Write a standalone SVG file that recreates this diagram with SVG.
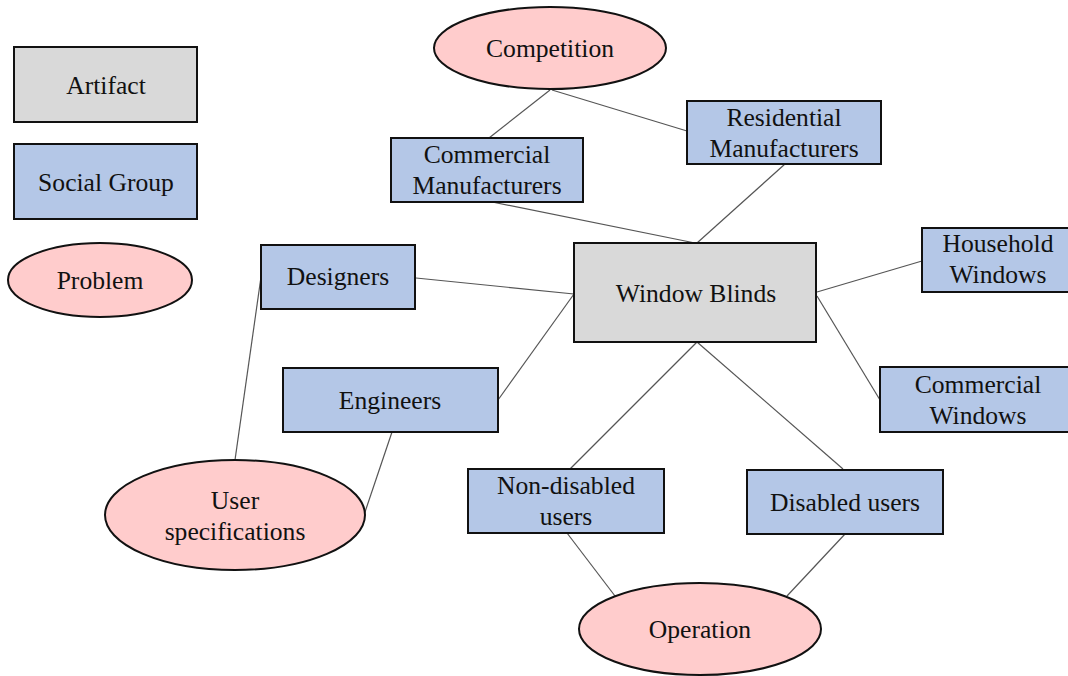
<svg xmlns="http://www.w3.org/2000/svg" width="1068" height="676" viewBox="0 0 1068 676">
  <style>
    .artifact { fill: #d9d9d9; stroke: #111; stroke-width: 2; }
    .group { fill: #b4c7e7; stroke: #111; stroke-width: 2; }
    .problem { fill: #ffcccc; stroke: #111; stroke-width: 2; }
    .edge { stroke: #555; stroke-width: 1.2; fill: none; }
    .label { font-size: 25.6px; fill: #111; text-anchor: middle; }
  </style>
  <rect width="1068" height="676" fill="#fff"/>

  <!-- connectors -->
  <g id="connectors">
    <line class="edge" x1="550" y1="90" x2="489" y2="138"/>
    <line class="edge" x1="552" y1="90" x2="687" y2="131"/>
    <line class="edge" x1="492" y1="202" x2="695" y2="243"/>
    <line class="edge" x1="785" y1="164" x2="697" y2="243"/>
    <line class="edge" x1="416" y1="278" x2="574" y2="294"/>
    <line class="edge" x1="498" y1="400" x2="574" y2="294"/>
    <line class="edge" x1="817" y1="292" x2="922" y2="261"/>
    <line class="edge" x1="817" y1="296" x2="880" y2="400"/>
    <line class="edge" x1="697" y1="342" x2="570" y2="469"/>
    <line class="edge" x1="697" y1="342" x2="843" y2="469"/>
    <line class="edge" x1="261" y1="277" x2="235" y2="460"/>
    <line class="edge" x1="392" y1="432" x2="364" y2="515"/>
    <line class="edge" x1="567" y1="533" x2="615" y2="596"/>
    <line class="edge" x1="845" y1="534" x2="787" y2="596"/>
  </g>

  <g font-family="'Liberation Serif', 'DejaVu Serif', serif">
  <!-- legend -->
  <g id="legend-artifact">
    <rect class="artifact" x="14" y="47" width="183" height="75"/>
    <text class="label" x="106" y="94">Artifact</text>
  </g>
  <g id="legend-social-group">
    <rect class="group" x="14" y="144" width="183" height="75"/>
    <text class="label" x="106" y="191">Social Group</text>
  </g>
  <g id="legend-problem">
    <ellipse class="problem" cx="100" cy="280" rx="92" ry="37"/>
    <text class="label" x="100" y="289">Problem</text>
  </g>

  <!-- diagram nodes -->
  <g id="competition">
    <ellipse class="problem" cx="550" cy="48" rx="116" ry="41"/>
    <text class="label" x="550" y="57">Competition</text>
  </g>
  <g id="commercial-manufacturers">
    <rect class="group" x="391" y="138" width="192" height="64"/>
    <text class="label" x="487" y="163">Commercial</text>
    <text class="label" x="487" y="194">Manufacturers</text>
  </g>
  <g id="residential-manufacturers">
    <rect class="group" x="687" y="101" width="194" height="63"/>
    <text class="label" x="784" y="126">Residential</text>
    <text class="label" x="784" y="157">Manufacturers</text>
  </g>
  <g id="window-blinds">
    <rect class="artifact" x="574" y="243" width="242" height="99"/>
    <text class="label" x="696" y="302">Window Blinds</text>
  </g>
  <g id="household-windows">
    <rect class="group" x="922" y="228" width="150" height="64"/>
    <text class="label" x="998" y="252">Household</text>
    <text class="label" x="998" y="283">Windows</text>
  </g>
  <g id="commercial-windows">
    <rect class="group" x="880" y="367" width="192" height="65"/>
    <text class="label" x="978" y="393">Commercial</text>
    <text class="label" x="978" y="424">Windows</text>
  </g>
  <g id="designers">
    <rect class="group" x="261" y="245" width="154" height="64"/>
    <text class="label" x="338" y="285">Designers</text>
  </g>
  <g id="engineers">
    <rect class="group" x="283" y="368" width="215" height="64"/>
    <text class="label" x="390" y="409">Engineers</text>
  </g>
  <g id="user-specifications">
    <ellipse class="problem" cx="235" cy="515" rx="130" ry="55"/>
    <text class="label" x="235" y="509">User</text>
    <text class="label" x="235" y="540">specifications</text>
  </g>
  <g id="non-disabled-users">
    <rect class="group" x="468" y="469" width="196" height="64"/>
    <text class="label" x="566" y="494">Non-disabled</text>
    <text class="label" x="566" y="525">users</text>
  </g>
  <g id="disabled-users">
    <rect class="group" x="747" y="470" width="196" height="64"/>
    <text class="label" x="845" y="511">Disabled users</text>
  </g>
  <g id="operation">
    <ellipse class="problem" cx="700" cy="629" rx="121" ry="46"/>
    <text class="label" x="700" y="638">Operation</text>
  </g>
  </g>
</svg>
